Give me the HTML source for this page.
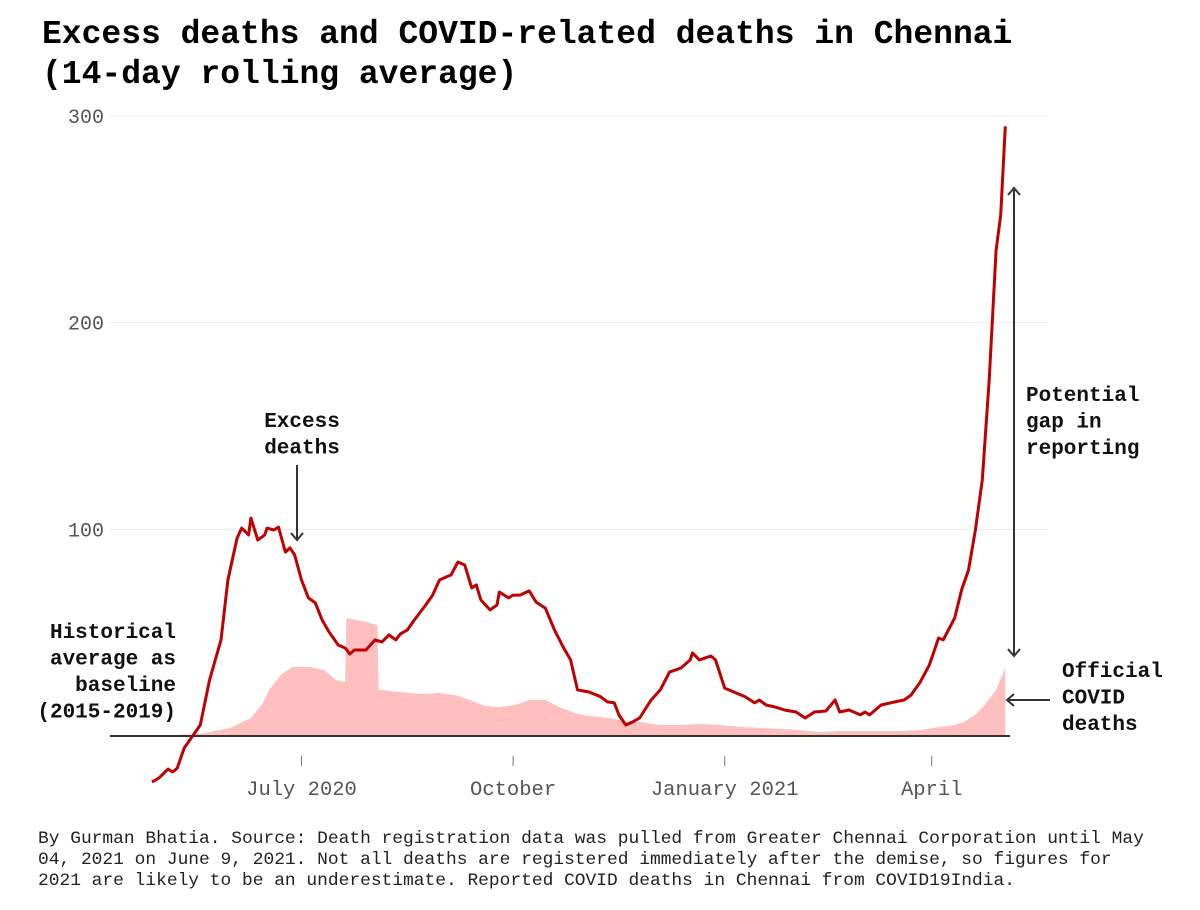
<!DOCTYPE html>
<html><head><meta charset="utf-8">
<style>
body{margin:0;background:#fff;width:1200px;height:910px;overflow:hidden;font-family:"Liberation Mono",monospace;}
#title{position:absolute;left:42px;top:15px;font-size:33px;font-weight:bold;line-height:40px;color:#000;margin:0;}
#foot{position:absolute;left:38px;top:829px;font-size:17.9px;line-height:21px;color:#222;white-space:pre;}
svg{position:absolute;left:0;top:0;}
</style></head><body>
<h1 id="title">Excess deaths and COVID-related deaths in Chennai<br>(14-day rolling average)</h1>
<svg id="chart" width="1200" height="910"></svg>
<div id="foot">By Gurman Bhatia. Source: Death registration data was pulled from Greater Chennai Corporation until May
04, 2021 on June 9, 2021. Not all deaths are registered immediately after the demise, so figures for
2021 are likely to be an underestimate. Reported COVID deaths in Chennai from COVID19India.</div>
<script>
// days since 2020-04-27
const excessDays=[0,3,7,9,11,14,17,21,25,30,33,37,39,42,43,46,49,50,53,55,58,60,62,65,68,71,74,77,81,84,86,88,93,97,100,103,106,108,111,114,119,122,125,128,130,133,136,139,141,143,147,150,151,155,157,160,164,167,171,175,179,182,185,190,195,198,201,203,206,209,212,217,221,225,230,234,235,238,243,245,249,253,258,262,264,267,271,275,280,284,288,293,297,299,303,308,310,312,317,323,327,330,334,338,342,344,349,352,355,358,361,364,367,369,371];
const excessVals=[-22.3,-20.3,-16,-17.4,-15.5,-5.8,-1,5.3,27,46.5,75.5,95.8,100.6,97.3,105.5,94.8,97.3,100.6,99.7,101.1,89,91,87.7,75.5,66.8,64.4,56.1,50.3,44,42.6,39.7,41.6,41.6,46.5,45.5,48.9,46.5,49.4,51.3,56.1,63.4,68.2,75.5,77,77.9,84.2,82.7,71.6,73.1,65.8,61,63.4,69.7,66.8,68.2,68.2,70.2,64.8,61.9,51.3,42.6,36.8,22.3,21.3,19,16.5,16,10.2,5.3,6.8,8.7,17.4,22.3,30.9,32.9,36.8,40.2,36.8,38.7,36.8,23.2,21.3,18.9,16,17.4,15,14,12.6,11.6,8.7,11.6,12.1,17.4,11.6,12.6,10.2,11.6,10.2,15,16.5,17.4,19.8,26.1,34.4,47.4,46.5,57.1,70.7,80.3,99.7,123.9,172.3,235.2,252,295];
const covidDays=[0,21,34,43,48,51,56,61,69,75,80,84,84.5,93,98,98.5,108,117,125,132,138,145,151,158,164,171,177,184,190,199,206,212,221,230,238,247,256,264,273,282,290,299,312,325,334,343,349,353,358,362,367,371];
const covidVals=[0,1,3.9,8.7,15.5,22.3,29.5,33.4,33.4,31.9,27.1,26.1,57,55.2,53.7,22.3,21.3,20.3,20.8,19.8,17.4,14.5,14,15,17.4,17.4,14,11.1,9.7,8.7,6.8,6.8,5.3,5.3,5.8,5.3,4.4,3.9,3.4,2.9,1.9,2.4,2.4,2.4,2.9,4.4,5.3,6.8,10.2,15,22.3,33];
const yTicks=[100,200,300];
const xTickDays=[65,157,249,339];
const xTickLabels=["July 2020","October","January 2021","April"];

const NS="http://www.w3.org/2000/svg";
const svg=document.getElementById('chart');
const x=d=>152+d*2.3;
const y=v=>736-v*620/300;
function mk(tag,attrs,parent){const e=document.createElementNS(NS,tag);for(const k in attrs)e.setAttribute(k,attrs[k]);(parent||svg).appendChild(e);return e;}

yTicks.forEach(t=>{
  const g=mk('line',{x1:110,x2:1048,y1:y(t),y2:y(t),stroke:'#ececec','stroke-width':1});
  
  
  const l=mk('text',{x:104,y:y(t)+7,'text-anchor':'end','font-size':20,fill:'#555','font-family':'Liberation Mono, monospace'});
  l.textContent=t;
  
  
});

let ad='M'+x(covidDays[0])+','+y(0);
covidDays.forEach((d,i)=>{ad+=' L'+x(d).toFixed(1)+','+y(covidVals[i]).toFixed(1);});
ad+=' L'+x(covidDays[covidDays.length-1])+','+y(0)+' Z';
const area=mk('path',{d:ad,fill:'#ffbfbf'});



const ax=mk('line',{x1:110,x2:1010,y1:y(0),y2:y(0),stroke:'#333','stroke-width':2});



let ld='';
excessDays.forEach((d,i)=>{ld+=(i?' L':'M')+x(d).toFixed(1)+','+y(excessVals[i]).toFixed(1);});
const line=mk('path',{d:ld,fill:'none',stroke:'#c00000','stroke-width':3,'stroke-linejoin':'round'});



xTickDays.forEach((d,i)=>{
  const t=mk('line',{x1:x(d),x2:x(d),y1:756,y2:766,stroke:'#777','stroke-width':1});
  
  
  const l=mk('text',{x:x(d),y:795,'text-anchor':'middle','font-size':20.5,fill:'#555','font-family':'Liberation Mono, monospace'});
  l.textContent=xTickLabels[i];
  
  
});

function label(lines,xx,yy,anchor,name){
  const t=mk('text',{x:xx,y:yy,'text-anchor':anchor,'font-size':21,'font-weight':'bold',fill:'#111','font-family':'Liberation Mono, monospace'});
  
  
  lines.forEach((s,i)=>{const sp=mk('tspan',{x:xx,dy:i?26.5:0},t);sp.textContent=s;});
}
label(['Excess','deaths'],302,427,'middle','excess-deaths-annotation');
label(['Historical','average as','baseline','(2015-2019)'],176,638,'end','baseline-annotation');
label(['Potential','gap in','reporting'],1026,401,'start','gap-annotation');
label(['Official','COVID','deaths'],1062,677,'start','official-deaths-annotation');

const ac='#333';
const a1=mk('path',{d:'M297,465 L297,540 M291,533 L297,540 L303,533',stroke:ac,'stroke-width':2,fill:'none'});


const a2=mk('path',{d:'M1014,188 L1014,656 M1008,195 L1014,188 L1020,195 M1008,649 L1014,656 L1020,649',stroke:ac,'stroke-width':2,fill:'none'});


const a3=mk('path',{d:'M1050,700 L1007,700 M1014,694 L1007,700 L1014,706',stroke:ac,'stroke-width':2,fill:'none'});


</script>
</body></html>
